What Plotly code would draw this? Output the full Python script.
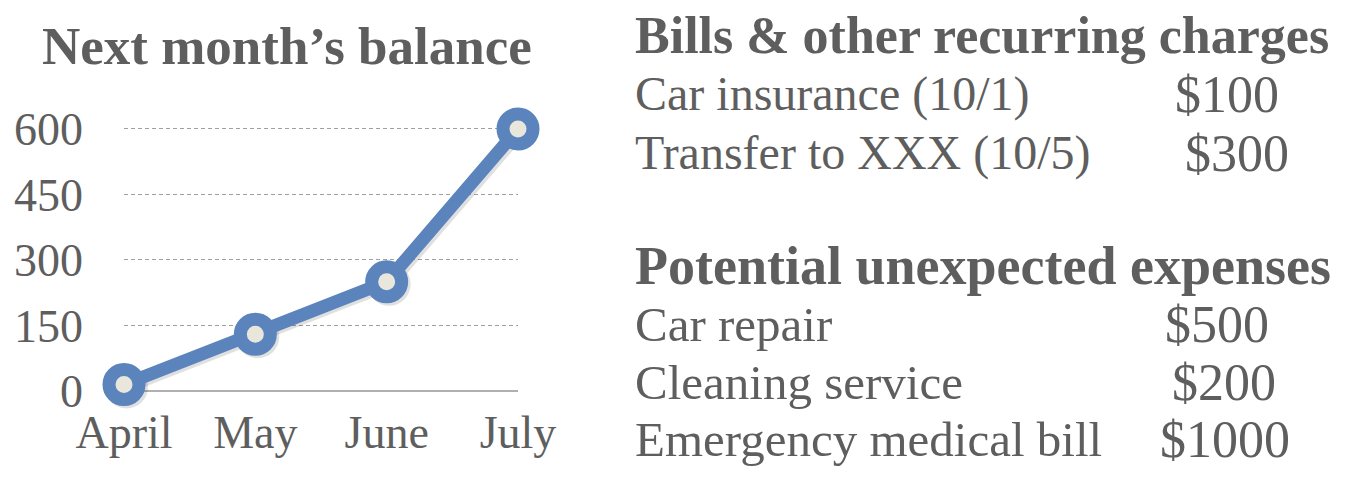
import plotly.graph_objects as go

# chart data
months = ["April", "May", "June", "July"]
balance = [15, 130, 250, 600]
y_ticks = [0, 150, 300, 450, 600]

# side lists
bills_title = "Bills & other recurring charges"
bills = ["Car insurance (10/1)", "Transfer to XXX (10/5)"]
bills_amounts = ["$100", "$300"]
expenses_title = "Potential unexpected expenses"
expenses = ["Car repair", "Cleaning service", "Emergency medical bill"]
expenses_amounts = ["$500", "$200", "$1000"]

W, H = 1364, 479
OFF = 7  # page offset of the plot div
GREY = "#5e5e5e"
BLUE = "#5b84bd"
SERIF = "Liberation Serif"

def px(x):
    return (x - OFF) / W

def py_(y):
    return 1 - (y - OFF) / H

fig = go.Figure()

# base axes: grid + tick labels (invisible carrier trace)
fig.add_trace(go.Scatter(x=months, y=balance, mode="lines", opacity=0,
                         hoverinfo="skip", showlegend=False))
# shadow, drawn on an overlay shifted a couple of pixels down-right
fig.add_trace(go.Scatter(
    x=months, y=balance, mode="lines+markers",
    line=dict(color="rgba(0,0,0,0.12)", width=13),
    marker=dict(size=43, color="rgba(0,0,0,0.12)", line=dict(width=0)),
    hoverinfo="skip", showlegend=False, cliponaxis=False, xaxis="x2", yaxis="y2",
))
# main series
fig.add_trace(go.Scatter(
    x=months, y=balance, mode="lines+markers",
    line=dict(color=BLUE, width=13),
    marker=dict(size=30, color="#e9e7dc", line=dict(color=BLUE, width=13)),
    showlegend=False, cliponaxis=False, xaxis="x3", yaxis="y3",
))

YMAX = 605
ppu = 262 / 600
x_dom = [px(123), px(517)]
y_dom = [py_(390), py_(390 - YMAX * ppu)]
dx = 3 / 394 * 2.5
dy = 2.5 / ppu

fig.update_layout(
    width=W, height=H,
    margin=dict(l=0, r=0, t=0, b=0),
    paper_bgcolor="white", plot_bgcolor="white",
    font=dict(family=SERIF, color=GREY),
    xaxis=dict(
        domain=x_dom, range=[0, 3], type="category", categoryarray=months,
        showgrid=False, zeroline=False, showline=False, automargin=False,
        tickfont=dict(size=46, color=GREY), ticklabelstandoff=10,
    ),
    yaxis=dict(
        domain=y_dom, range=[0, YMAX], automargin=False,
        tickvals=y_ticks, tickfont=dict(size=46, color=GREY),
        showgrid=True, gridcolor="#a0a0a0", griddash="4px,3px", gridwidth=1.2,
        zeroline=True, zerolinecolor="#b0b0b0", zerolinewidth=2,
        ticklabelstandoff=40,
    ),
    xaxis2=dict(range=[0 - dx, 3 - dx], type="category", categoryarray=months,
                overlaying="x", visible=False, automargin=False),
    yaxis2=dict(range=[0 + dy, YMAX + dy], overlaying="y", visible=False,
                automargin=False),
    xaxis3=dict(range=[0, 3], type="category", categoryarray=months,
                overlaying="x", visible=False, automargin=False),
    yaxis3=dict(range=[0, YMAX], overlaying="y", visible=False, automargin=False),
)

ann = []
ann.append(dict(text="<b>Next month’s balance</b>", x=px(286), y=py_(45),
                xanchor="center", yanchor="middle", font=dict(size=53)))

LX = 632
ann.append(dict(text=f"<b>{bills_title}</b>", x=px(LX), y=py_(35),
                xanchor="left", yanchor="middle", font=dict(size=52)))
bill_y = [93, 152]
bill_ax = [1172, 1182]
for lab, amt, y, ax in zip(bills, bills_amounts, bill_y, bill_ax):
    ann.append(dict(text=lab, x=px(LX), y=py_(y), xanchor="left", yanchor="middle",
                    font=dict(size=48)))
    ann.append(dict(text=amt, x=px(ax), y=py_(y), xanchor="left", yanchor="middle",
                    font=dict(size=52)))

ann.append(dict(text=f"<b>{expenses_title}</b>", x=px(LX), y=py_(265),
                xanchor="left", yanchor="middle", font=dict(size=54)))
exp_y = [323, 381, 438]
exp_ax = [1162, 1169, 1157]
for lab, amt, y, ax in zip(expenses, expenses_amounts, exp_y, exp_ax):
    ann.append(dict(text=lab, x=px(LX), y=py_(y), xanchor="left", yanchor="middle",
                    font=dict(size=49)))
    ann.append(dict(text=amt, x=px(ax), y=py_(y), xanchor="left", yanchor="middle",
                    font=dict(size=52)))

for a in ann:
    a.update(xref="paper", yref="paper", showarrow=False)
    a["font"]["color"] = GREY
    a["font"]["family"] = SERIF
fig.update_layout(annotations=ann)

fig.write_html("out.html")
